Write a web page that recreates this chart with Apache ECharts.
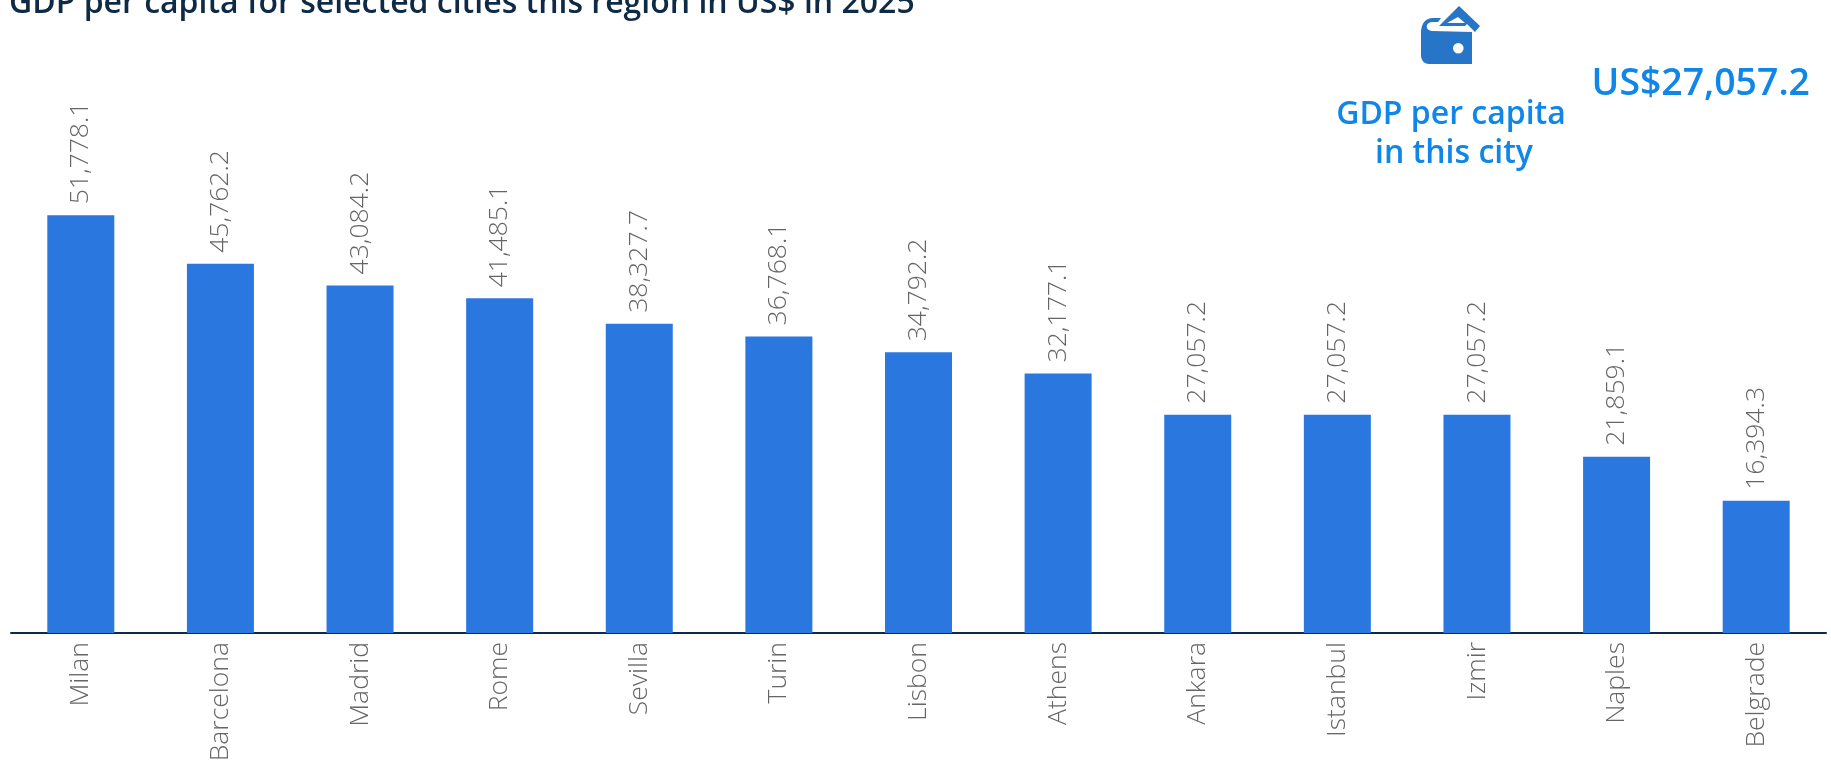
<!DOCTYPE html>
<html>
<head>
<meta charset="utf-8">
<style>
    html, body { margin: 0; padding: 0; background: #fff; }
    #chart { width: 1831px; height: 761px; }
</style>
<script src="https://cdn.jsdelivr.net/npm/echarts@6/dist/echarts.min.js"></script>
</head>
<body>
<div id="chart"></div>
<script>
const cities = ['Milan', 'Barcelona', 'Madrid', 'Rome', 'Sevilla', 'Turin', 'Lisbon', 'Athens', 'Ankara', 'Istanbul', 'Izmir', 'Naples', 'Belgrade'];
const gdpValues = [51778.1, 45762.2, 43084.2, 41485.1, 38327.7, 36768.1, 34792.2, 32177.1, 27057.2, 27057.2, 27057.2, 21859.1, 16394.3];
const titleText = 'GDP per capita for selected cities this region in US$ in 2025';
const cityValueText = 'US$27,057.2';

const font = '"Open Sans"';
const blue = '#0f86e8';

// wallet icon shapes
echarts.graphic.registerShape('walletBody', echarts.graphic.extendPath(
    'M0 27 C0 17 5 12 12 12 L20 12 L17 16 L11 16 C4 16 4 25 11 25 L51 26 L51 58 L8 58 C3 58 0 54 0 49 Z M37.3 37 A5.3 5.3 0 1 0 37.31 37 Z', {}
));
echarts.graphic.registerShape('walletFlap', echarts.graphic.extendPath(
    'M18 20 L38 0 L59 20 L54 26 L46 18 L44 20 Z M26 17 L44 17 L37 11 Z', {}
));

const myChart = echarts.init(document.getElementById('chart'));

const chartOption = {
    animation: false,
    grid: { left: 11, right: 5, top: 149, bottom: 128, outerBoundsMode: 'none' },
    xAxis: {
        type: 'category',
        data: cities,
        axisTick: { show: false },
        axisLine: { lineStyle: { color: '#0f2a44', width: 2 } },
        axisLabel: {
            rotate: 90,
            interval: 0,
            margin: 9,
            padding: [4, 0, 0, 0],
            color: '#666666',
            fontFamily: font,
            fontWeight: 300,
            fontSize: 26.5,
        },
    },
    yAxis: {
        type: 'value',
        min: 0,
        max: 60000,
        show: false,
    },
    series: [
        {
            type: 'bar',
            barWidth: 67,
            data: gdpValues,
            itemStyle: { color: '#2a77e0' },
            label: {
                show: true,
                position: 'top',
                rotate: 90,
                distance: 10,
                offset: [1, 0],
                align: 'left',
                verticalAlign: 'middle',
                color: '#666666',
                fontFamily: font,
                fontWeight: 300,
                fontSize: 26.5,
                formatter: p => p.value.toLocaleString('en-US', { minimumFractionDigits: 1 }),
            },
        },
    ],
    graphic: [
        {
            type: 'text',
            x: 9,
            y: 4,
            style: { text: titleText, fill: '#0f2a44', font: '600 32px ' + font, textVerticalAlign: 'middle' },
        },
        {
            type: 'text',
            x: 1451,
            y: 115,
            style: { text: 'GDP per capita', fill: blue, font: '600 32px ' + font, textAlign: 'center', textVerticalAlign: 'middle' },
        },
        {
            type: 'text',
            x: 1454,
            y: 154,
            style: { text: 'in this city', fill: blue, font: '600 32px ' + font, textAlign: 'center', textVerticalAlign: 'middle' },
        },
        {
            type: 'text',
            x: 1810,
            y: 84,
            style: { text: cityValueText, fill: blue, font: '600 37.4px ' + font, textAlign: 'right', textVerticalAlign: 'middle' },
        },
        {
            type: 'group',
            x: 1421,
            y: 6,
            children: [
                { type: 'walletBody', style: { fill: '#2775c7' } },
                { type: 'walletFlap', style: { fill: '#2775c7' } },
            ],
        },
    ],
};
myChart.setOption(chartOption);
</script>
</body>
</html>
